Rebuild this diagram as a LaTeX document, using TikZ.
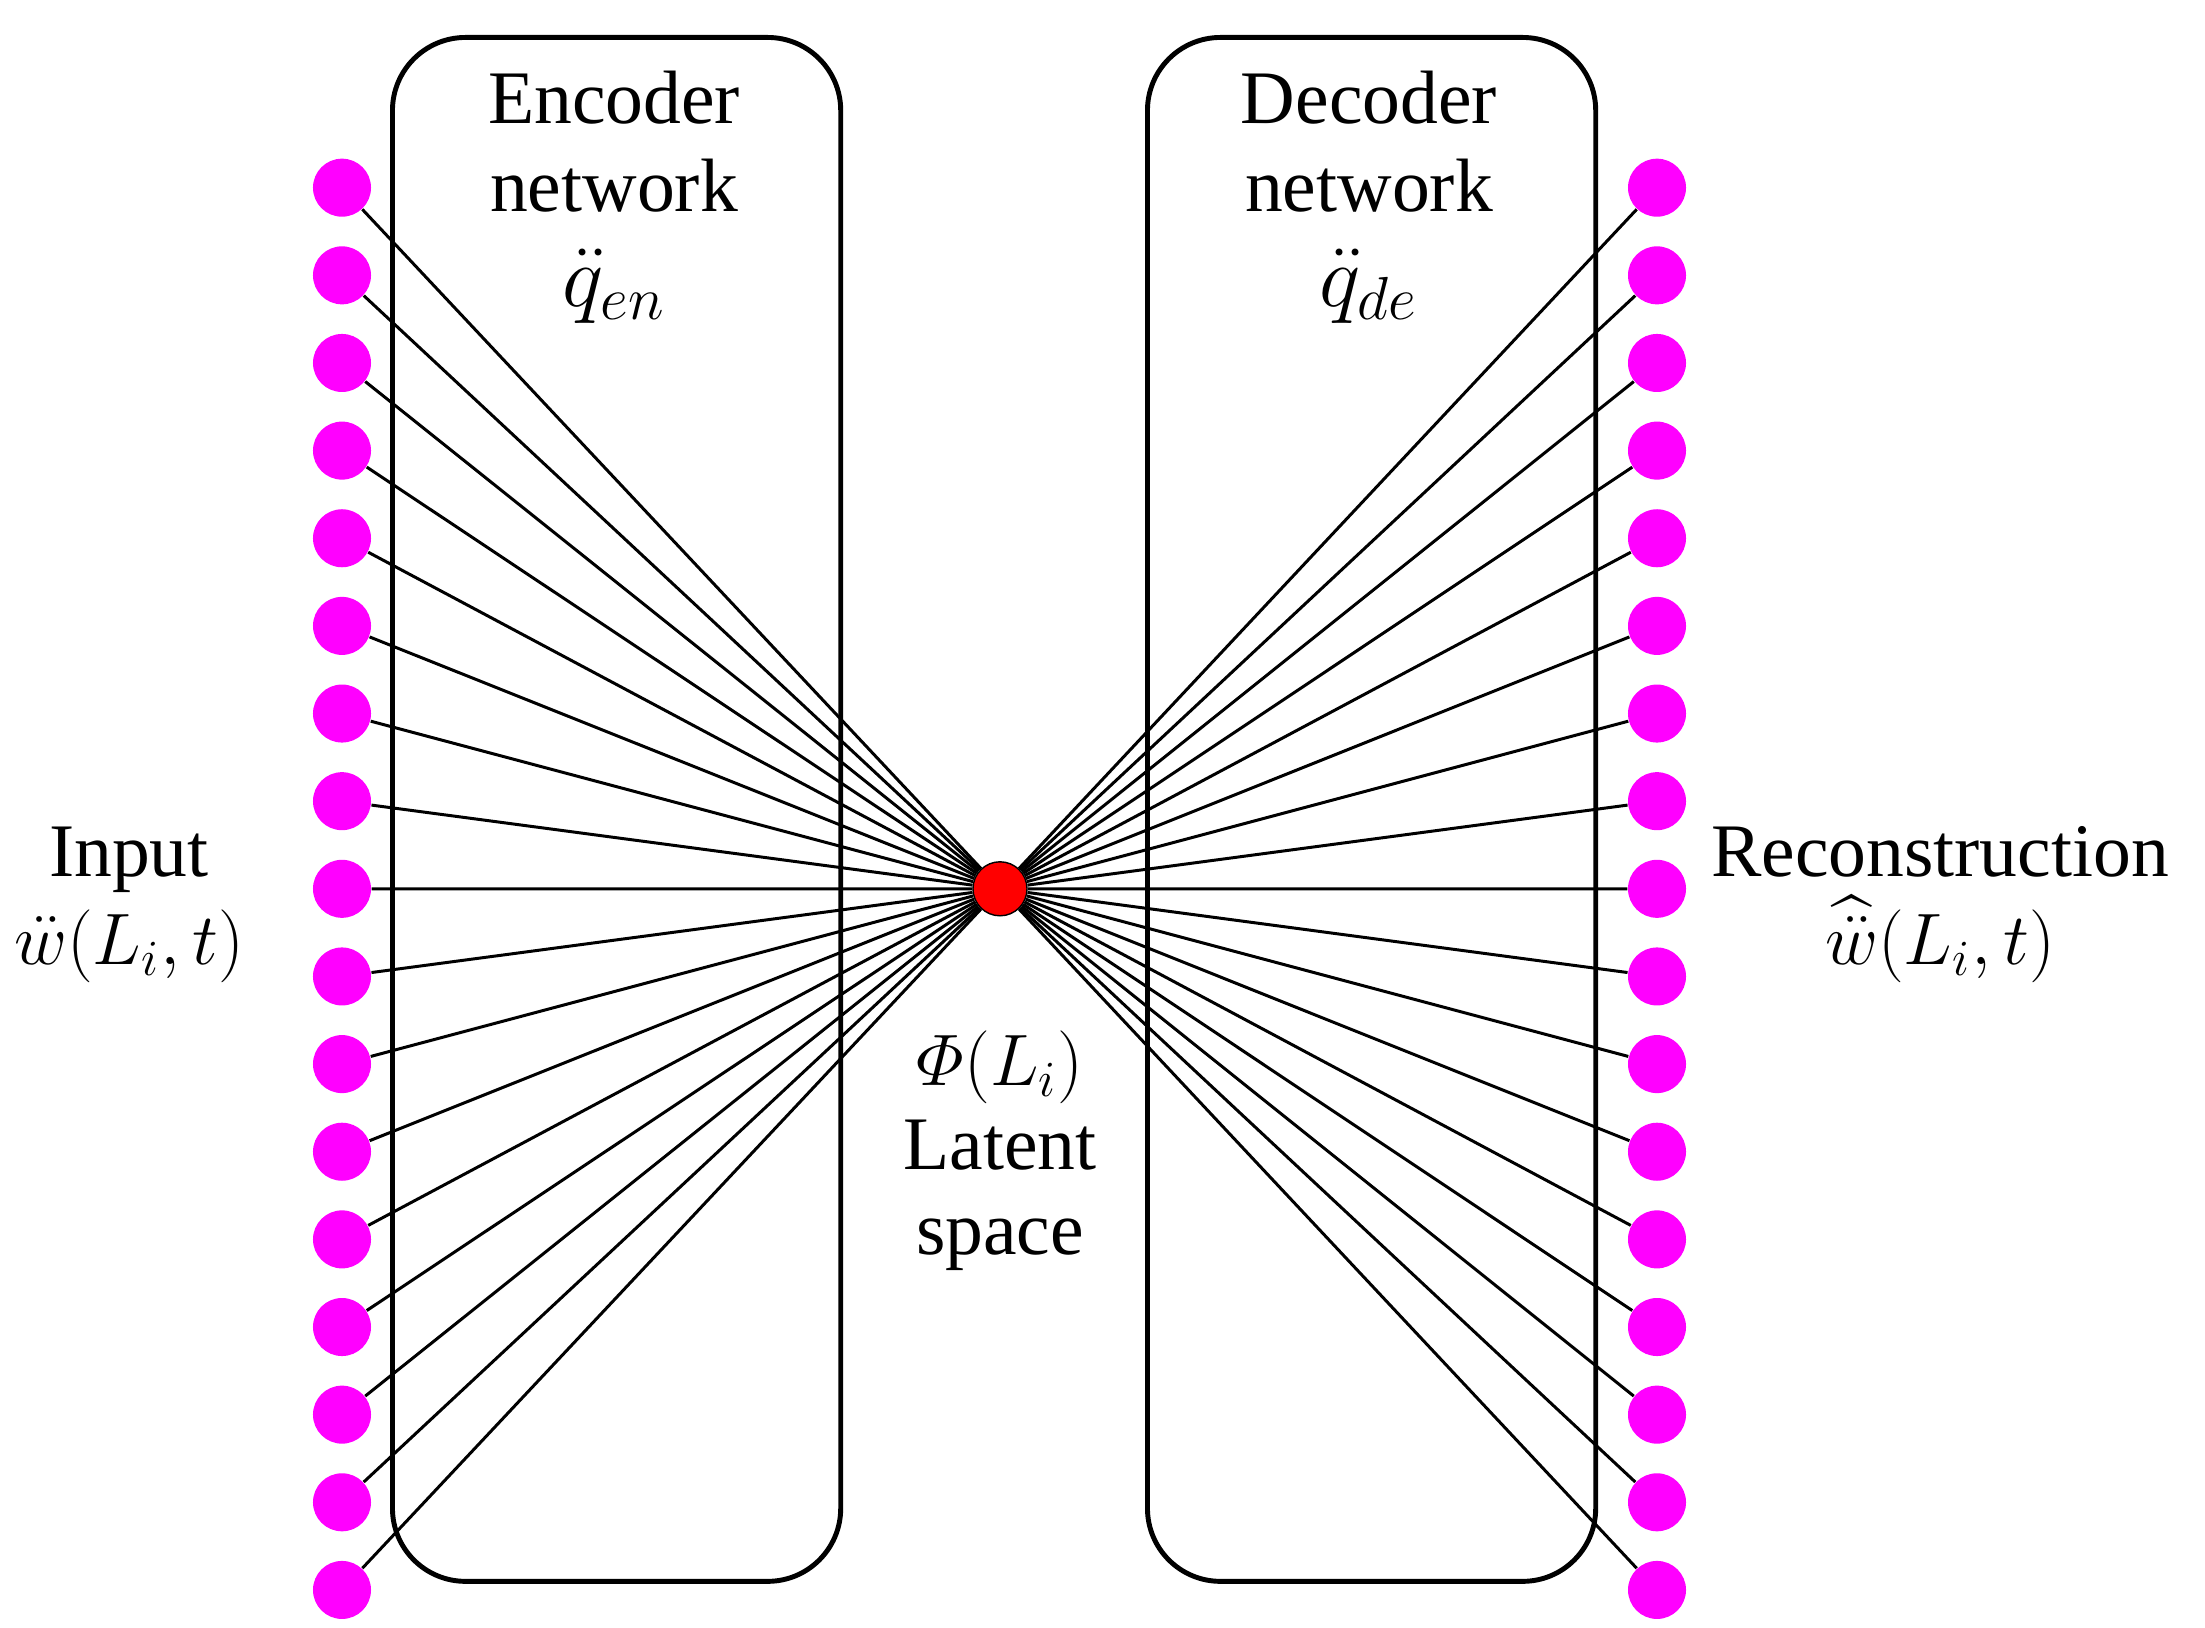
\documentclass[tikz,border=0pt]{standalone}
\usepackage{amsmath}
\usepackage{fontspec}
\setmainfont{Liberation Serif}
\definecolor{dotmag}{RGB}{255,0,255}
\definecolor{dotred}{RGB}{255,0,0}
\begin{document}
\begin{tikzpicture}[x=0.01cm,y=-0.01cm,
  netbox/.style={draw, line width=1.4pt, rounded corners=0.73cm, minimum width=4.48cm, minimum height=15.43cm, inner sep=0pt, anchor=north west},
  iodot/.style={circle, fill=dotmag, inner sep=0pt, minimum size=0.58cm},
  latdot/.style={circle, fill=dotred, draw=black, line width=0.4pt, inner sep=0pt, minimum size=0.54cm},
  conn/.style={line width=0.85pt},
  lbl/.style={align=center, inner sep=0pt, font=\fontsize{21.5}{25}\selectfont}
]
\useasboundingbox (0,0) rectangle (2205,1628);
\node[netbox] (enc) at (390,35) {};
\node[netbox] (dec) at (1145,35) {};
\node[latdot] (z) at (1000,888.8) {};
\foreach \i in {1,...,17} {
  \pgfmathsetmacro\yy{187.7+(\i-1)*87.64}
  \node[iodot] (l\i) at (342,\yy) {};
  \node[iodot] (r\i) at (1657,\yy) {};
}
\foreach \i in {1,...,17} {
  \draw[conn] (l\i) -- (z);
  \draw[conn] (z) -- (r\i);
}
\node[lbl, anchor=north] (enct) at (614,70) {Encoder\\network\\[2pt]{\fontsize{24.5}{25}\selectfont$\ddot{q}_{en}$}};
\node[lbl, anchor=north] (dect) at (1369,70) {Decoder\\network\\[2pt]{\fontsize{24.5}{25}\selectfont$\ddot{q}_{de}$}};
\node[lbl, anchor=north] (inp) at (129,826) {Input\\$\ddot{w}(L_i,t)$};
\node[lbl, anchor=north] (rec) at (1940,826) {Reconstruction\\$\widehat{\ddot{w}}(L_i,t)$};
\node[lbl, anchor=north, font=\fontsize{21.5}{24}\selectfont] (lat) at (1000,1030) {$\varPhi(L_i)$\\Latent\\space};
\end{tikzpicture}
\end{document}
